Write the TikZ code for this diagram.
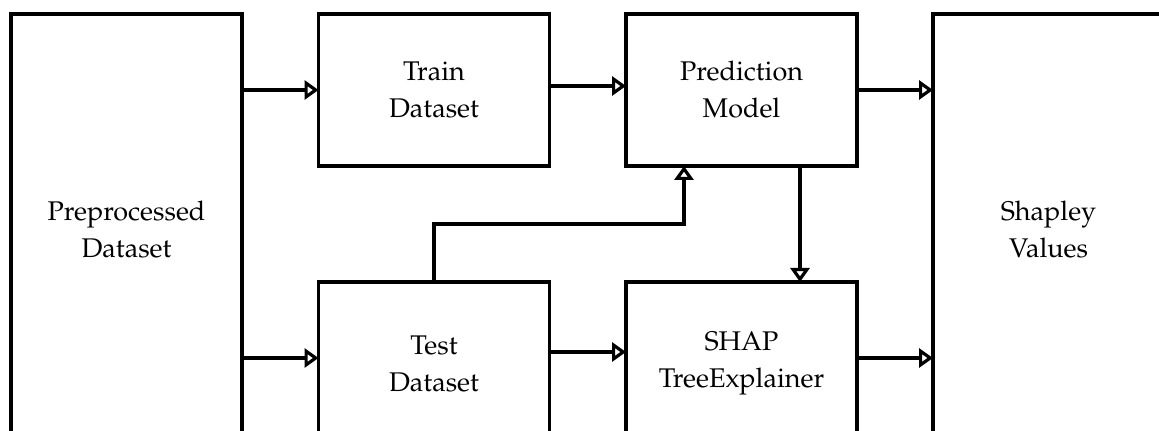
\documentclass[tikz,border=0pt]{standalone}
\usepackage[T1]{fontenc}
\usepackage{mathpazo}
\usetikzlibrary{arrows.meta}
\tikzset{
  blk/.style={draw, line width=1.6pt, rectangle, inner sep=0pt, align=center,
    font=\fontsize{13.5}{18.5}\selectfont, minimum width=115.5pt},
  arr/.style={line width=1.6pt, shorten >=-0.8pt, -{Triangle[open, length=7pt, width=9.5pt]}},
}
\begin{document}
\begin{tikzpicture}[x=0.5pt, y=-0.5pt]
\useasboundingbox (0,0) rectangle (1159,431);
\clip (0,0) rectangle (1159,431);
\node[blk, minimum height=215.5pt] (pre) at (126.5,229.5) {Preprocessed\\Dataset};
\node[blk, minimum height=76pt] (train) at (434,90) {Train\\Dataset};
\node[blk, minimum height=76pt] (pred) at (741.5,90) {Prediction\\Model};
\node[blk, minimum height=215.5pt] (shap) at (1048.5,229.5) {Shapley\\Values};
\node[blk, minimum height=81.5pt] (test) at (434,363.5) {Test\\Dataset};
\node[blk, minimum height=81.5pt] (expl) at (741.5,363.5) {SHAP\\TreeExplainer};
\coordinate (y90) at (0,90);
\coordinate (y86) at (0,86);
\coordinate (y358) at (0,358);
\coordinate (y352) at (0,352);
\coordinate (k1) at (684,224);
\coordinate (k2) at (800,0);
\draw[arr] (pre.east |- y90) -- (train.west |- y90);
\draw[arr] (pre.east |- y358) -- (test.west |- y358);
\draw[arr] (train.east |- y86) -- (pred.west |- y86);
\draw[arr] (pred.east |- y90) -- (shap.west |- y90);
\draw[arr] (test.east |- y352) -- (expl.west |- y352);
\draw[arr] (expl.east |- y358) -- (shap.west |- y358);
\draw[arr] (test.north) |- (k1) -- (k1 |- pred.south);
\draw[arr] (pred.south -| k2) -- (expl.north -| k2);
\end{tikzpicture}
\end{document}
